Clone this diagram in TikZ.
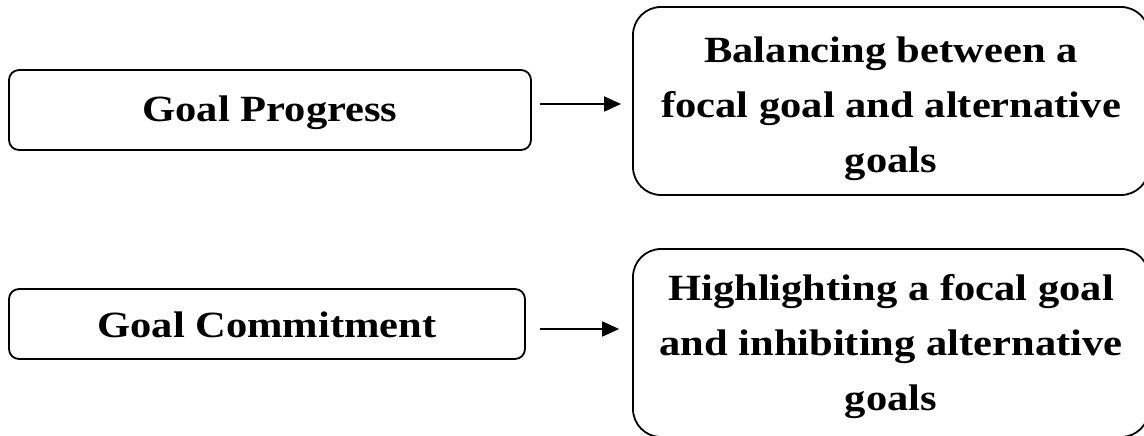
\documentclass[tikz,border=0pt]{standalone}
\usepackage{fontspec}
\setmainfont[FakeStretch=1.15]{Liberation Serif}
\usetikzlibrary{arrows.meta}
\begin{document}
\begin{tikzpicture}[x=1pt,y=1pt,
  box/.style={draw=black, line width=1.8pt, rounded corners=#1, inner sep=0pt},
  box/.default=10pt,
  txt/.style={inner sep=0pt, align=center, font=\fontsize{37}{55}\selectfont\bfseries},
  arr/.style={-{Triangle[length=17pt,width=15pt]}, line width=1.8pt}]
\clip (0,0) rectangle (1144,436);
\fill[white] (0,0) rectangle (1144,436);
\node[box, minimum width=522, minimum height=80] (b1) at (270,326) {};
\node[box=28pt, minimum width=516, minimum height=188] (b2) at (891,335) {};
\node[box, minimum width=516, minimum height=70] (b3) at (267,112) {};
\node[box=28pt, minimum width=516, minimum height=188] (b4) at (891,93) {};
\node[txt] (t1) at ([yshift=-3pt]b1.center) {Goal Progress};
\node[txt] (t2) at ([yshift=-8pt]b2.center) {Balancing between a\\focal goal and alternative\\goals};
\node[txt] (t3) at ([yshift=-1pt]b3.center) {Goal Commitment};
\node[txt] (t4) at ([yshift=-4pt]b4.center) {Highlighting a focal goal\\and inhibiting alternative\\goals};
\coordinate (a1) at (0,332);
\coordinate (a2) at (0,107);
\draw[arr, shorten <=8pt, shorten >=11pt] (b1.east |- a1) -- (b2.west |- a1);
\draw[arr, shorten <=14pt, shorten >=13pt] (b3.east |- a2) -- (b4.west |- a2);
\end{tikzpicture}
\end{document}
